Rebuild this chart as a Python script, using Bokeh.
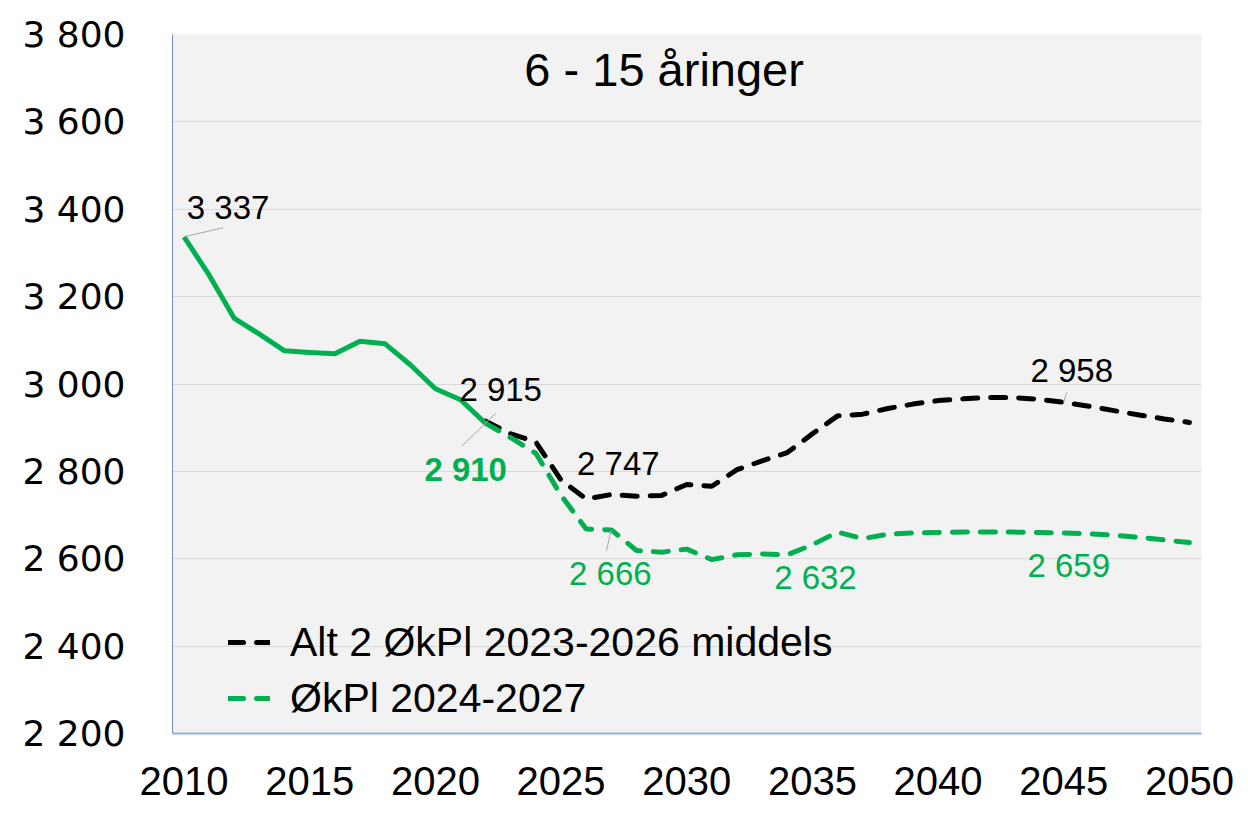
from bokeh.plotting import figure
from bokeh.models import Range1d, FixedTicker, Legend, LegendItem, Label
from bokeh.core.properties import value
from bokeh.embed import file_html
from bokeh.resources import INLINE

# ---------------- data ----------------
years_hist = list(range(2010, 2023))
hist_values = [3337, 3249, 3150, 3114, 3076, 3072, 3069, 3098, 3092, 3044, 2989, 2964, 2910]

years_proj = list(range(2022, 2051))
alt2_values = [2915, 2886, 2867, 2780, 2737, 2747, 2743, 2745, 2770, 2766,
               2804, 2824, 2843, 2886, 2927, 2931, 2944, 2954, 2962, 2966,
               2969, 2969, 2965, 2958, 2949, 2939, 2929, 2920, 2912]
okpl_values = [2910, 2877, 2841, 2745, 2668, 2666, 2619, 2615, 2622, 2598,
               2609, 2611, 2609, 2632, 2661, 2646, 2656, 2659, 2660, 2661,
               2661, 2661, 2660, 2659, 2657, 2654, 2649, 2643, 2637]

series_names = ["Alt 2 ØkPl 2023-2026 middels", "ØkPl 2024-2027"]
title_text = "6 - 15 åringer"

x_ticks = [2010, 2015, 2020, 2025, 2030, 2035, 2040, 2045, 2050]
y_ticks = [2200, 2400, 2600, 2800, 3000, 3200, 3400, 3600, 3800]
y_tick_labels = ["2 200", "2 400", "2 600", "2 800", "3 000", "3 200", "3 400", "3 600", "3 800"]

# ---------------- figure ----------------
FONT = "Liberation Sans"
GREEN = "#00b050"
X0, X1 = 2009.54, 2050.48
Y0, Y1 = 2200, 3800
W, H = 1240, 808
ML, MR, MT, MB = 172, 39, 34, 75
FW, FH = W - ML - MR, H - MT - MB
PXX = FW / (X1 - X0)
PXY = FH / (Y1 - Y0)

p = figure(width=W, height=H, output_backend="svg", toolbar_location=None,
           x_range=Range1d(X0, X1), y_range=Range1d(Y0, Y1),
           min_border_left=ML, min_border_right=MR, min_border_top=MT, min_border_bottom=MB)
p.background_fill_color = "#f2f2f2"
p.border_fill_color = "white"
p.outline_line_color = None

p.xgrid.visible = False
p.ygrid.grid_line_color = "#d9d9d9"
p.ygrid.grid_line_width = 1

p.yaxis.ticker = FixedTicker(ticks=y_ticks)
p.yaxis.major_label_overrides = {t: l for t, l in zip(y_ticks, y_tick_labels)}
p.yaxis.major_label_text_font = "DejaVu Sans"
p.yaxis.major_label_text_font_size = "36px"
p.yaxis.major_label_text_color = "black"
p.yaxis.major_label_standoff = 47
p.yaxis.axis_line_color = "#6d8fcb"
p.yaxis.axis_line_width = 1

p.xaxis.ticker = FixedTicker(ticks=x_ticks)
p.xaxis.major_label_text_font = FONT
p.xaxis.major_label_text_font_size = "40px"
p.xaxis.major_label_text_color = "black"
p.xaxis.major_label_standoff = 33
p.xaxis.axis_line_color = "#8eb0e0"
p.xaxis.axis_line_width = 2

for ax in (p.xaxis, p.yaxis):
    ax.major_tick_in = 0
    ax.major_tick_out = 0
    ax.minor_tick_in = 0
    ax.minor_tick_out = 0
    ax.major_label_text_font_style = "normal"

# ---------------- lines ----------------
r_black = p.line(years_proj, alt2_values, line_color="black", line_width=5,
                 line_dash="15 13", line_cap="round")
r_green = p.line(years_proj, okpl_values, line_color=GREEN, line_width=5,
                 line_dash="15 13", line_cap="round")
p.line(years_hist, hist_values, line_color=GREEN, line_width=5, line_join="round")

# ---------------- data labels ----------------
def val(series_years, series_vals, yr):
    return series_vals[series_years.index(yr)]

def fmt(v):
    return f"{v:,}".replace(",", " ")

labels = [
    (years_hist, hist_values, 2010, 44, -29, "black", "normal"),
    (years_proj, alt2_values, 2022, 15, -32, "black", "normal"),
    (years_proj, okpl_values, 2022, -20, 46, GREEN, "bold"),
    (years_proj, alt2_values, 2027, 7, -31, "black", "normal"),
    (years_proj, okpl_values, 2027, -1, 44, GREEN, "normal"),
    (years_proj, okpl_values, 2035, 3, 33, GREEN, "normal"),
    (years_proj, okpl_values, 2045, 5, 33, GREEN, "normal"),
    (years_proj, alt2_values, 2045, 8, -32, "black", "normal"),
]
for ys, vs, yr, dx, dy, col, style in labels:
    v = val(ys, vs, yr)
    p.text(x=[yr], y=[v], text=[fmt(v)], x_offset=dx, y_offset=dy,
           text_align="center", text_baseline="middle",
           text_font=value(FONT), text_font_size="33px", text_color=col,
           text_font_style=style)

# leader lines (pixel offsets from the point, converted through the scales)
leaders = [
    (years_hist, hist_values, 2010, 0, 0, 39, -9),
    (years_proj, okpl_values, 2022, -24, 23, 10, -10),
    (years_proj, okpl_values, 2027, 0, 0, -5, 21),
    (years_proj, alt2_values, 2045, 0, 0, 3, -10),
]
for ys, vs, yr, ax0, ay0, ax1, ay1 in leaders:
    v = val(ys, vs, yr)
    p.segment(x0=[yr + ax0 / PXX], y0=[v - ay0 / PXY],
              x1=[yr + ax1 / PXX], y1=[v - ay1 / PXY],
              line_color="#a6a6a6", line_width=1)

# ---------------- title ----------------
p.add_layout(Label(x=2029.1, y=3720, text=title_text, text_align="center",
                   text_baseline="middle", text_font=FONT, text_font_size="47px",
                   text_color="black"))

# ---------------- legend ----------------
legend = Legend(items=[LegendItem(label=series_names[0], renderers=[r_black]),
                       LegendItem(label=series_names[1], renderers=[r_green])],
                location=(56, 10), label_text_font=FONT, label_text_font_size="41px",
                label_text_color="black",
                glyph_width=42, glyph_height=50, label_height=50, label_standoff=20,
                spacing=6, padding=0, margin=0,
                background_fill_alpha=0, border_line_color=None)
p.add_layout(legend)

open("out.html", "w").write(file_html(p, INLINE))
